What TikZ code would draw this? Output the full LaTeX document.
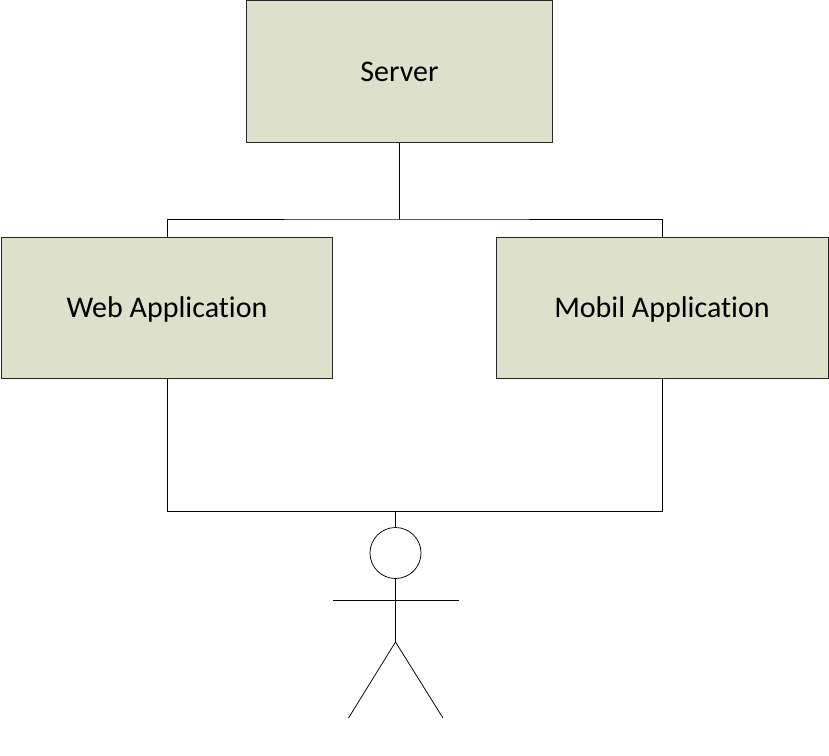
\documentclass[tikz,border=0pt]{standalone}
\usepackage{fontspec}
\setmainfont[Ligatures=CommonOff]{Carlito}
\usetikzlibrary{positioning,calc}
\begin{document}
\begin{tikzpicture}[x=1pt,y=-1pt,line width=0.75pt,font=\fontsize{30}{36}\selectfont]
\tikzstyle{comp}=[rectangle, draw=black!85, fill=boxfill, inner sep=0pt, align=center, text height=19pt, text depth=0pt]
\definecolor{boxfill}{HTML}{DDE0CA}
\useasboundingbox (0,0) rectangle (829,755);
\node[comp, minimum width=306pt, minimum height=142pt] (server) at (399.5,71.5) {Server};
\node[comp, minimum width=331.5pt, minimum height=141pt] (web) at (167,307.5) {Web Application};
\node[comp, minimum width=332pt, minimum height=141pt] (mobil) at (662,307.5) {Mobil Application};
\coordinate (split) at (399.5,219);
\coordinate (join) at (395.5,511.5);
\node[circle, draw, minimum size=51pt, inner sep=0pt] (head) at (395.5,553) {};
\coordinate (hip) at (395.5,642);
\coordinate (armL) at (333,600);
\coordinate (armR) at (459,600);
\coordinate (footL) at (348.5,718);
\coordinate (footR) at (443,718);
\draw (server) -- (split);
\draw (web.north) |- (split) -| (mobil.north);
\draw (web.south) |- (join) -| (mobil.south);
\draw (join) -- (head);
\draw (head) -- (hip);
\draw (armL) -- (armR);
\draw (footL) -- (hip) -- (footR);
\end{tikzpicture}
\end{document}
